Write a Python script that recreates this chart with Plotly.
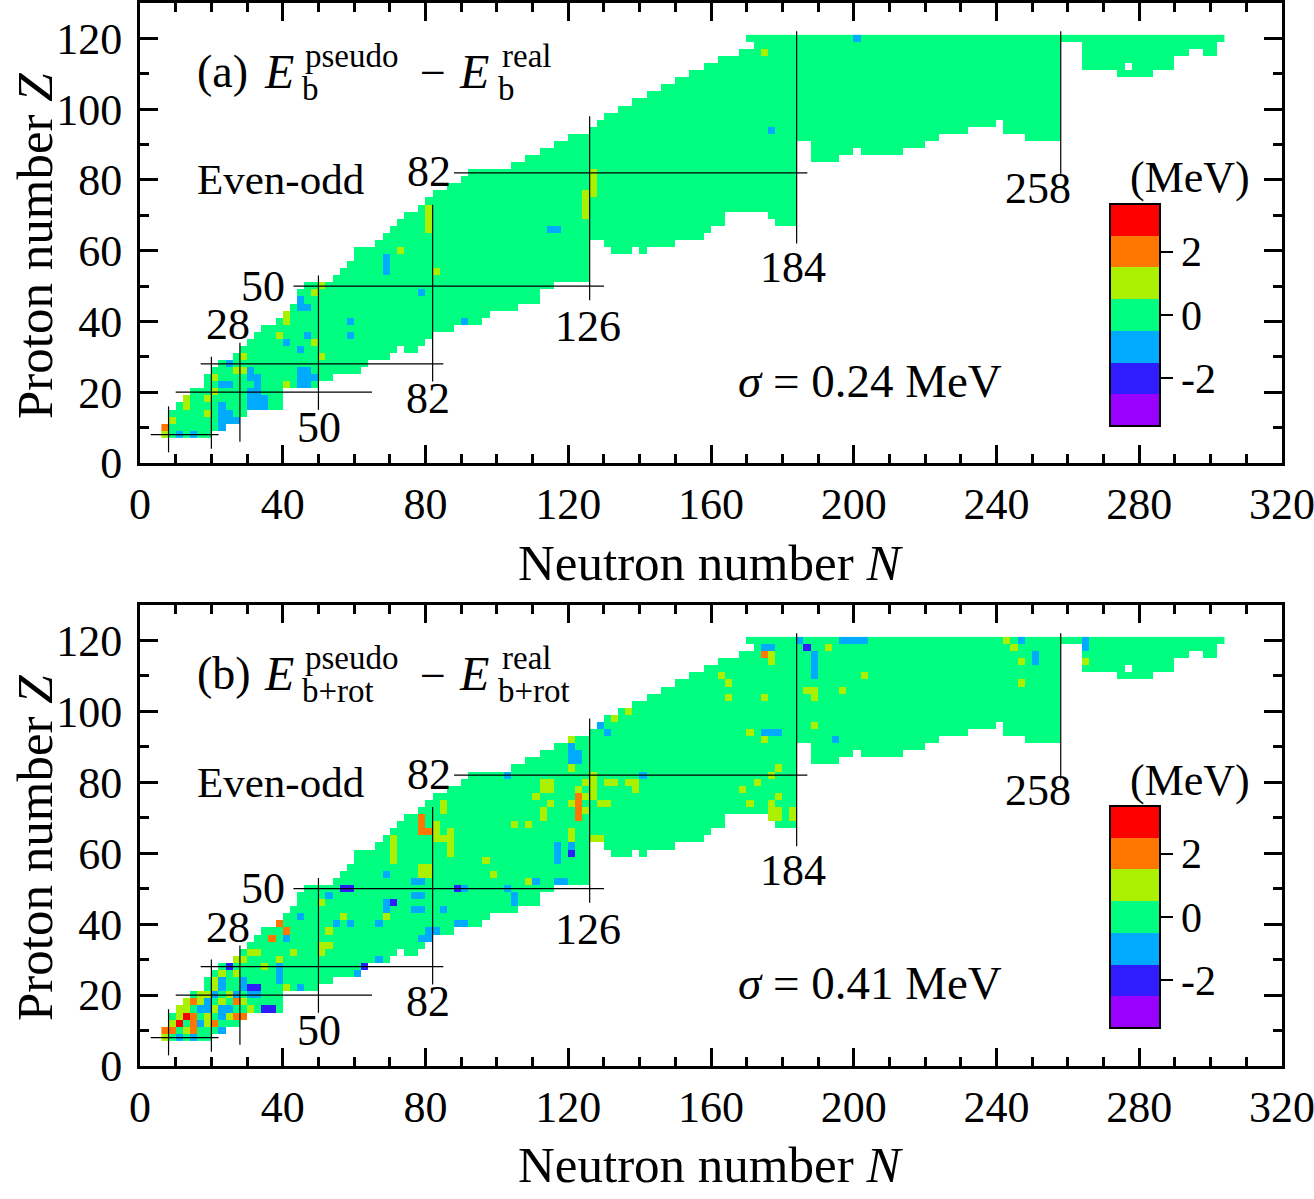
import numpy as np
import plotly.graph_objects as go

# even-Z rows of the chart and the first (proton-rich) odd N in each row
Z_ROWS = list(range(8, 122, 2))
N_FIRST = [7, 7, 9, 9, 11, 13, 15, 19, 19, 21,
           23, 27, 29, 31, 33, 35, 39, 41, 43, 45,
           45, 47, 55, 57, 59, 61, 61, 67, 69, 71,
           73, 75, 79, 81, 83, 87, 91, 93, 105, 109,
           113, 117, 121, 127, 129, 131, 135, 139, 143, 147,
           151, 155, 159, 163, 169, 173, 171]

# neutron-rich edge: lowest Z of each odd-N column, given as runs ending at DRIP_N_END
DRIP_N_END = [19, 23, 27, 29, 39, 49, 53, 61, 63, 69,
              71, 73, 77, 79, 81, 87, 95, 97, 105, 111,
              115, 125, 129, 131, 137, 139, 141, 149, 157, 159,
              163, 175, 177, 183, 187, 195, 199, 201, 213, 219,
              223, 231, 239, 241, 247, 257, 263, 273, 283, 289,
              293, 297, 301, 303]
DRIP_Z_MIN = [8, 10, 12, 14, 16, 22, 24, 26, 28, 30,
              32, 34, 32, 34, 36, 38, 40, 42, 44, 46,
              50, 52, 64, 62, 60, 62, 60, 62, 64, 66,
              68, 72, 70, 68, 92, 86, 88, 90, 88, 90,
              92, 94, 96, 98, 94, 92, 120, 112, 110, 112,
              116, 118, 116, 120]
HOLES = [(277, 112)]
N_COLS = list(range(7, 305, 2))

# nuclei whose deviation (MeV) is off the 0 bin: (N, Z, value)
DEV_A = [
    (7, 8, 1), (11, 8, -1), (15, 8, -1), (7, 10, 2), (23, 10, -1),
    (9, 12, 1), (23, 12, -1), (25, 12, -1), (27, 12, -1),
    (19, 14, 1), (23, 14, -1), (25, 14, -1),
    (13, 16, 1), (23, 16, -1), (31, 16, -1), (33, 16, -1), (35, 16, -1),
    (13, 18, 1), (19, 18, 1), (31, 18, -1), (33, 18, -1), (35, 18, -1),
    (21, 20, 1), (31, 20, -1), (33, 20, -1),
    (23, 22, -1), (25, 22, -1), (33, 22, -1), (41, 22, 1), (45, 22, -1), (47, 22, -1),
    (21, 24, 1), (31, 24, -1), (33, 24, -1), (45, 24, -1), (47, 24, -1), (49, 24, -1),
    (27, 26, 1), (29, 26, 1), (31, 26, -1), (45, 26, -1), (47, 26, -1),
    (25, 28, -1), (29, 30, 1), (51, 30, 1), (45, 32, -1),
    (49, 34, 1), (41, 34, -1), (39, 36, 1), (47, 36, -1), (59, 36, -1),
    (41, 40, 1), (59, 40, -1), (91, 40, -1), (41, 42, 1),
    (45, 44, -1), (47, 44, -1), (45, 46, -1), (49, 48, 1), (79, 48, -1), (51, 50, 1),
    (69, 54, -1), (83, 54, 1), (69, 56, -1), (69, 58, -1), (73, 60, 1),
    (115, 66, -1), (117, 66, -1),
    (81, 66, 1), (81, 68, 1), (81, 70, 1), (81, 72, 1),
    (125, 70, 1), (125, 72, 1), (125, 74, 1), (125, 76, 1),
    (127, 76, 1), (127, 78, 1), (127, 80, 1), (127, 82, 1),
    (177, 94, -1), (175, 116, 1), (201, 120, -1),
]
DEV_B = [
    (7, 8, 1), (11, 8, -1), (15, 8, -1),
    (7, 10, 2), (9, 10, 2), (13, 10, 1), (15, 10, 2), (23, 10, -1),
    (9, 12, 1), (11, 12, 3), (15, 12, 2), (17, 12, -1), (19, 12, 1), (21, 12, 2),
    (11, 14, 1), (13, 14, 3), (15, 14, 2), (19, 14, 1), (23, 14, -1), (25, 14, 1),
    (27, 14, 2), (29, 14, 2), (31, 14, 1), (33, 14, 2),
    (11, 16, 1), (13, 16, 1), (17, 16, -1), (19, 16, -1), (21, 16, 1), (23, 16, -1),
    (25, 16, -1), (31, 16, 1), (35, 16, -2), (37, 16, -2),
    (13, 18, 1), (15, 18, 2), (17, 18, 1), (19, 18, -1), (23, 18, 1), (27, 18, 2), (29, 18, 1),
    (17, 20, 1), (19, 20, 1), (21, 20, -1), (25, 20, 1), (27, 20, -1), (31, 20, -1), (33, 20, -1),
    (21, 22, 1), (23, 22, -1), (29, 22, -1), (31, 22, -2), (33, 22, -2), (41, 22, 1), (45, 22, -1),
    (21, 24, 1), (23, 24, -1), (29, 24, -1), (39, 24, -1),
    (23, 26, 1), (27, 26, 1), (39, 26, -1), (61, 26, -1),
    (25, 28, -2), (35, 28, 1), (39, 28, -1), (63, 28, -2),
    (27, 30, 1), (29, 30, 1), (39, 30, 1), (67, 30, -1),
    (31, 32, 1), (33, 32, 1), (43, 32, 1), (51, 32, 1), (51, 34, 1), (53, 34, 1),
    (37, 36, 2), (41, 36, -1), (79, 36, -1), (81, 36, -1),
    (41, 38, 2), (53, 38, 1), (81, 38, -1), (83, 38, -1),
    (39, 40, 2), (55, 40, -1), (59, 40, -1), (67, 40, -1), (89, 40, -1), (91, 40, -1),
    (45, 42, -1), (57, 42, 1), (69, 42, 1),
    (69, 44, -1), (77, 44, -1), (79, 44, -1), (85, 44, -1),
    (51, 46, 1), (69, 46, -1), (71, 46, -2), (105, 46, -1),
    (53, 48, -1), (77, 48, -1), (79, 48, -1), (105, 48, -1),
    (57, 50, -2), (59, 50, -2), (89, 50, -2), (91, 50, -1), (103, 50, -1),
    (77, 52, -1), (79, 52, -1), (109, 52, 1), (111, 52, -1), (117, 52, -1), (119, 52, -1),
    (69, 54, -1), (79, 54, 1), (81, 54, 1), (99, 54, 1), (79, 56, 1), (81, 56, 1),
    (71, 58, 1), (97, 58, 1), (117, 58, -1),
    (71, 60, 1), (87, 60, 1), (117, 60, -1), (121, 60, -2),
    (71, 62, 1), (87, 62, 1), (117, 62, -1), (121, 62, -1),
    (71, 64, 1), (83, 64, 1), (85, 64, 1), (87, 64, 1), (121, 64, 1), (127, 64, 1), (129, 64, 1),
    (79, 66, 2), (81, 66, 2), (83, 66, 1), (87, 66, 1), (121, 66, 1),
    (79, 68, 2), (83, 68, 1), (105, 68, 1), (109, 68, 1),
    (79, 70, 2), (113, 70, 1), (123, 70, 2), (177, 70, 1), (179, 70, 1), (183, 70, 1),
    (85, 72, 1), (113, 72, 1), (123, 72, 2), (125, 72, 1), (177, 72, 1), (179, 72, 1), (183, 72, 1),
    (85, 74, 1), (115, 74, 1), (121, 74, 1), (123, 74, 2), (129, 74, 1), (131, 74, 1),
    (171, 74, 1), (177, 74, 1),
    (111, 76, 1), (123, 76, 2), (125, 76, 1), (127, 76, 1), (179, 76, 1),
    (113, 78, 1), (115, 78, 1), (123, 78, 1), (127, 78, 1), (139, 78, 1), (169, 78, 1),
    (113, 80, 1), (115, 80, 1), (125, 80, 1), (127, 80, 1), (131, 80, 1), (133, 80, 1),
    (137, 80, 1), (139, 80, 1), (173, 80, 1),
    (103, 82, -1), (127, 82, 1), (141, 82, -1), (177, 82, 1),
    (121, 84, 1), (179, 84, 1), (121, 86, -1), (123, 86, -1), (121, 88, -1), (123, 88, -1),
    (121, 90, -1), (121, 92, 1), (175, 92, 1), (195, 92, -1),
    (131, 94, -1), (171, 94, 1), (175, 94, -1), (177, 94, -1), (179, 94, -1),
    (129, 96, -1), (189, 96, 1), (133, 98, 1), (137, 100, 1),
    (165, 104, 1), (175, 104, 1), (189, 104, 1),
    (187, 106, 1), (189, 106, 1), (197, 106, 1), (165, 108, 1), (247, 108, 1),
    (163, 110, 1), (189, 110, -1), (203, 110, 1), (189, 112, -1),
    (177, 114, 1), (189, 114, -1), (247, 114, 1), (251, 114, -1), (265, 114, 1),
    (175, 116, 2), (177, 116, 1), (189, 116, -1), (251, 116, -1),
    (175, 118, -1), (177, 118, -1), (187, 118, -2), (193, 118, 1), (245, 118, 1), (265, 118, -1),
    (185, 120, -1), (197, 120, -1), (199, 120, -1), (201, 120, -1), (203, 120, -1),
    (243, 120, 1), (247, 120, -1), (265, 120, -1),
]
SIGMA = ["0.24", "0.41"]

# magic-number guide lines: (N, Z from, Z to) and (Z, N from, N to)
MAGIC_N = [(8, 3, 16), (20, 4, 30), (28, 6, 34), (50, 15, 53), (82, 23, 73),
           (126, 46, 98), (184, 62, 122), (258, 81, 122)]
MAGIC_Z = [(8, 3, 22), (20, 10, 65), (28, 17, 85), (50, 43, 130), (82, 88, 187)]
MAGIC_TXT = [("28", 24.7, 39), ("50", 34.5, 50), ("82", 81, 82.3), ("50", 50.2, 10),
             ("82", 80.8, 18.3), ("126", 125.5, 38.6), ("184", 183, 55.2), ("258", 251.5, 77.7)]

BIN_COLORS = ["#9900ff", "#2f1cff", "#00aaff", "#00ff80", "#aaf000", "#ff7700", "#ff0000"]
FONT = "Liberation Serif"


def zmin_of(n):
    for end, zm in zip(DRIP_N_END, DRIP_Z_MIN):
        if n <= end:
            return zm
    return 999


def build(devs):
    z = np.full((len(Z_ROWS), len(N_COLS)), np.nan)
    for i, zz in enumerate(Z_ROWS):
        for j, n in enumerate(N_COLS):
            if n >= N_FIRST[i] and zz >= zmin_of(n) and (n, zz) not in HOLES:
                z[i, j] = 0.0
    for n, zz, v in devs:
        i, j = Z_ROWS.index(zz), N_COLS.index(n)
        if not np.isnan(z[i, j]):
            z[i, j] = v
    return z


# pixel helpers (plot area spans x 140..1282, y 3..1066)
def px(x):
    return (x - 140) / 1142


def py(y):
    return (1066 - y) / 1063


def txt(t, x, y, size, **kw):
    d = dict(text=t, x=x, y=y, showarrow=False, xanchor="center", yanchor="middle",
             font=dict(family=FONT, size=size, color="black"))
    d.update(kw)
    return d


scale = []
for i, c in enumerate(BIN_COLORS):
    scale += [[i / 7, c], [(i + 1) / 7, c]]

fig = go.Figure()
ann = []
shapes = []
panels = [("", DEV_A, "(a)", "b", 0, 315), ("2", DEV_B, "(b)", "b+rot", 602, 917)]
for k, (sfx, devs, tag, sub, dy, cb_y) in enumerate(panels):
    fig.add_trace(go.Heatmap(
        x=N_COLS, y=Z_ROWS, z=build(devs), coloraxis="coloraxis" + sfx,
        xaxis="x" + sfx, yaxis="y" + sfx, hoverongaps=False))

    fig.layout["coloraxis" + sfx] = dict(
        cmin=-3.5, cmax=3.5, colorscale=scale,
        colorbar=dict(
            x=px(1110), xanchor="left", xpad=0, y=py(cb_y), yanchor="middle", ypad=0,
            thickness=50, len=222, lenmode="pixels",
            outlinewidth=2, outlinecolor="black",
            tickvals=[-2, 0, 2], ticktext=["-2", "0", "2"], ticks="outside",
            ticklen=12, tickwidth=2, tickcolor="black",
            tickfont=dict(family=FONT, size=42, color="black")))

    axis_common = dict(showgrid=False, zeroline=False, showline=True, linewidth=3,
                       linecolor="black", mirror="ticks", ticks="inside", ticklen=18,
                       tickwidth=3, tickcolor="black", automargin=False,
                       ticklabeloverflow="allow",
                       tickfont=dict(family=FONT, size=44, color="black"))
    dom = [0.5673, 1.0] if k == 0 else [0.0, 0.4337]
    fig.layout["xaxis" + sfx] = dict(
        axis_common, range=[0, 320], dtick=40, tick0=0, anchor="y" + sfx,
        domain=[0, 1], ticklabelstandoff=0,
        minor=dict(ticks="inside", ticklen=9, tickwidth=2.5, dtick=10, tickcolor="black"))
    fig.layout["yaxis" + sfx] = dict(
        axis_common, range=[0, 130], dtick=20, tick0=0, anchor="x" + sfx, domain=dom,
        ticklabelstandoff=6,
        minor=dict(ticks="inside", ticklen=9, tickwidth=2.5, dtick=10, tickcolor="black"))

    xr, yr = "x" + sfx, "y" + sfx
    for n, z0, z1 in MAGIC_N:
        shapes.append(dict(type="line", xref=xr, yref=yr, x0=n, x1=n, y0=z0, y1=z1,
                           line=dict(color="black", width=1.2)))
    for zz, n0, n1 in MAGIC_Z:
        shapes.append(dict(type="line", xref=xr, yref=yr, x0=n0, x1=n1, y0=zz, y1=zz,
                           line=dict(color="black", width=1.2)))
    for t, n, zz in MAGIC_TXT:
        ann.append(txt(t, n, zz, 44, xref=xr, yref=yr))
    ann.append(txt("Even-odd", 39.5, 80, 43, xref=xr, yref=yr))
    ann.append(txt("<i>σ</i> = " + SIGMA[k] + " MeV", 204.5, 23.3, 47, xref=xr, yref=yr))
    ann.append(txt("(MeV)", px(1190), py(178 + dy), 44, xref="paper", yref="paper"))

    # panel label E_sub^pseudo - E_sub^real with stacked scripts
    pieces = [(tag, 195, 71, 46), ("<i>E</i>", 262, 71, 48), ("pseudo", 303, 56, 33),
              (sub, 300, 89, 33), ("−", 418, 73, 46), ("<i>E</i>", 457, 71, 48),
              ("real", 500, 56, 33), (sub, 496, 89, 33)]
    for t, x0, y0, s in pieces:
        ann.append(txt(t, px(x0), py(y0 + dy), s, xref="paper", yref="paper",
                       xanchor="left"))

    ann.append(txt("Neutron number <i>N</i>", px(710), py(563 + dy), 51,
                   xref="paper", yref="paper"))
    ann.append(txt("Proton number <i>Z</i>", px(35), py(246 + dy), 51,
                   xref="paper", yref="paper", textangle=-90))

fig.update_layout(
    width=1314, height=1199,
    margin=dict(l=140, r=32, t=3, b=133),
    paper_bgcolor="white", plot_bgcolor="white",
    annotations=ann, shapes=shapes, showlegend=False,
)
fig.write_html("out.html", config={"displayModeBar": False},
               post_script="document.body.style.margin='0px';")
